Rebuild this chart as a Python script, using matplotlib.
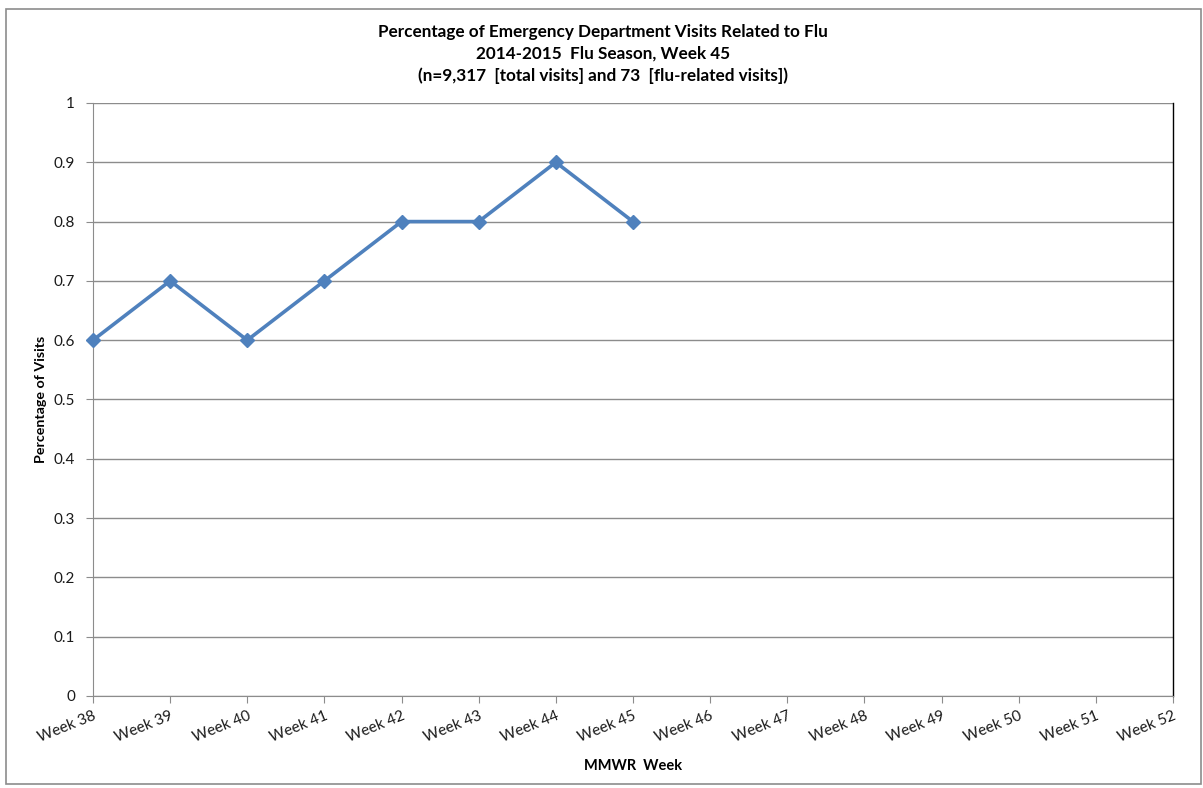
import matplotlib
matplotlib.use('Agg')
from matplotlib import pyplot as plt
from matplotlib.patches import Rectangle

weeks = ['Week %d' % w for w in range(38, 53)]
pct_weeks = ['Week 38', 'Week 39', 'Week 40', 'Week 41', 'Week 42', 'Week 43', 'Week 44', 'Week 45']
pct_visits = [0.6, 0.7, 0.6, 0.7, 0.8, 0.8, 0.9, 0.8]
y_ticks = [0, 0.1, 0.2, 0.3, 0.4, 0.5, 0.6, 0.7, 0.8, 0.9, 1]

plt.rcParams['font.family'] = ['Lato', 'DejaVu Sans']

fig = plt.figure(figsize=(12.03, 7.88), dpi=100)
ax = fig.add_axes([0.0773, 0.1168, 0.8977, 0.7525])

# outer chart border like excel
fig.patches.append(Rectangle((0.005, 0.005), 0.993, 0.984, transform=fig.transFigure,
                             fill=False, edgecolor='#8c8c8c', linewidth=1.2))

x_idx = [weeks.index(w) for w in pct_weeks]
ax.plot(x_idx, pct_visits, color='#4F81BD', linewidth=2.6, marker='D', markersize=7,
        markerfacecolor='#4F81BD', markeredgecolor='#4F81BD', zorder=3, clip_on=False)

ax.set_xlim(0, len(weeks) - 1)
ax.set_ylim(0, 1)
ax.set_yticks(y_ticks)
ax.set_yticklabels(['%g' % t for t in y_ticks])
ax.set_xticks(range(len(weeks)))
ax.set_xticklabels(weeks, rotation=22, ha='right', rotation_mode='anchor')

ax.grid(axis='y', color='#8c8c8c', linewidth=1.0)
ax.set_axisbelow(True)
ax.spines['top'].set_visible(False)
ax.spines['right'].set_color('black')
ax.spines['right'].set_linewidth(1.0)
ax.spines['left'].set_color('#8c8c8c')
ax.spines['bottom'].set_color('#8c8c8c')
ax.tick_params(axis='both', color='#8c8c8c', length=5, labelsize=11, labelcolor='#1a1a1a')
ax.tick_params(axis='y', pad=8)
ax.tick_params(axis='x', pad=4)

title_lines = ['Percentage of Emergency Department Visits Related to Flu',
               '2014-2015  Flu Season, Week 45',
               '(n=9,317  [total visits] and 73  [flu-related visits])']
for i, line in enumerate(title_lines):
    fig.text(0.501, 0.96 - i * 0.028, line, ha='center', va='center',
             fontsize=12.3, fontweight='bold')

fig.text(0.034, 0.493, 'Percentage of Visits', rotation=90, ha='center', va='center',
         fontsize=10.3, fontweight='bold')
fig.text(0.526, 0.028, 'MMWR  Week', ha='center', va='center', fontsize=10.5, fontweight='bold')

fig.savefig('out.png', dpi=100)
